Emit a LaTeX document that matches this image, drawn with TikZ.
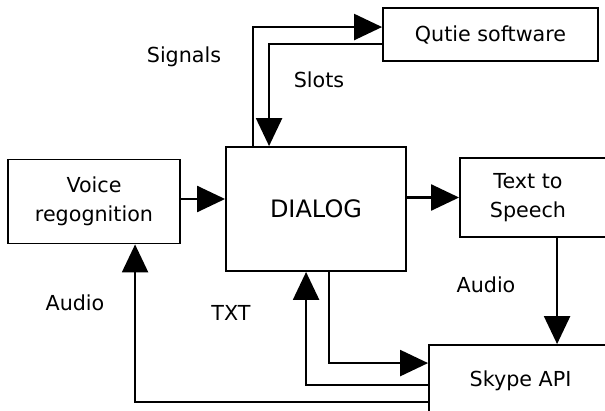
\documentclass[tikz,border=0pt]{standalone}
\usepackage{fontspec}
\setmainfont{DejaVu Sans}
\usetikzlibrary{arrows.meta}
\begin{document}
\begin{tikzpicture}[x=0.75pt,y=-0.75pt,
  box/.style={draw,line width=1.4pt,fill=white,inner sep=0pt,align=center,font=\fontsize{15.5}{21.7}\selectfont},
  lbl/.style={font=\fontsize{15.5}{21.7}\selectfont,inner sep=0pt},
  arr/.style={line width=1.8pt,-{Triangle[length=21pt,width=19.5pt]}}]
\useasboundingbox (0,0) rectangle (605,410);
\clip (0,0) rectangle (605,410);
\fill[white] (0,0) rectangle (605,410);
\node[box,minimum width=129pt,minimum height=63pt] (voice) at (94,201.5) {Voice\\regognition};
\node[box,minimum width=135pt,minimum height=93pt,font=\fontsize{18}{22}\selectfont] (dialog) at (316,209) {DIALOG};
\node[box,minimum width=161.25pt,minimum height=39.75pt] (qutie) at (490.5,34.5) {Qutie software};
\node[box,minimum width=114pt,minimum height=59.25pt] (tts) at (536,197.5) {\hspace*{-12pt}Text to\\\hspace*{-12pt}Speech};
\node[box,minimum width=137.25pt,minimum height=53.25pt] (skype) at (520.5,380.5) {Skype API};
% connectors
\draw[arr] (voice.east |- 0,199) -- (dialog.west |- 0,199);
\draw[arr] (tts.west -| dialog.east) -- (tts.west);
\draw[arr] ([xshift=21pt]dialog.north west) |- ([yshift=5.6pt]qutie.west);
\draw[arr] ([yshift=-7.1pt]qutie.west) -| ([xshift=33pt]dialog.north west);
\draw[arr] ([xshift=73.5pt]tts.south west) -- ([xshift=73.5pt]tts.south west |- skype.north);
\draw[arr] ([xshift=78pt]dialog.south west) |- ([yshift=-14.25pt]skype.north west);
\draw[arr] ([yshift=-30.75pt]skype.north west) -| ([xshift=60.75pt]dialog.south west);
\draw[arr] ([yshift=-43.5pt]skype.north west) -| ([xshift=96pt]voice.south west);
% labels
\node[lbl] (lsignals) at (184,57) {Signals};
\node[lbl] (lslots) at (319,80) {Slots};
\node[lbl] (laudio1) at (75,303) {Audio};
\node[lbl] (ltxt) at (231,313) {TXT};
\node[lbl] (laudio2) at (486,285) {Audio};
\end{tikzpicture}
\end{document}
